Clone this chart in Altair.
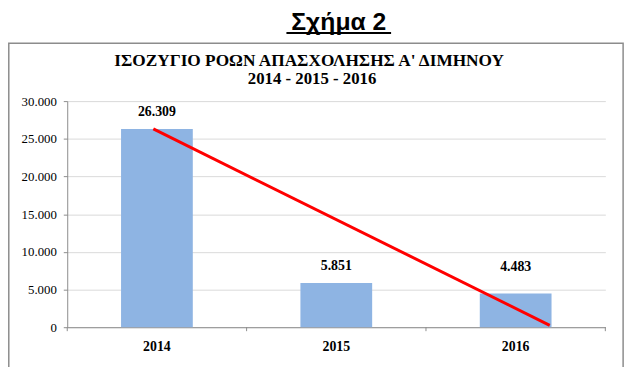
import altair as alt
import pandas as pd

years = ["2014", "2015", "2016"]
values = [26309, 5851, 4483]
trend_pos = [0.48, 2.69]
trend_values = [26309, 250]
boundaries = [0, 1, 2, 3]
y_ticks = [0, 5000, 10000, 15000, 20000, 25000, 30000]
fig_label = ["Σχήμα 2"]
title_line1 = ["ΙΣΟΖΥΓΙΟ ΡΟΩΝ ΑΠΑΣΧΟΛΗΣΗΣ Α' ΔΙΜΗΝΟΥ"]
title_line2 = ["2014 - 2015 - 2016"]

W, H = 545, 229
SERIF = "Liberation Serif"
SANS = "Liberation Sans"
FMT = "replace(format(datum.value, ','), ',', '.')"

bars_df = pd.DataFrame({"year": years, "value": values})
trend_df = pd.DataFrame({"pos": trend_pos, "value": trend_values})
bound_df = pd.DataFrame({"pos": boundaries})
fig_df = pd.DataFrame({"t": fig_label})
t1_df = pd.DataFrame({"t": title_line1})
t2_df = pd.DataFrame({"t": title_line2})

xband = alt.X(
    "year:N", sort=years,
    scale=alt.Scale(paddingInner=0.6, paddingOuter=0.3),
    axis=alt.Axis(title=None, labelAngle=0, labelFont=SERIF, labelFontSize=14,
                  labelFontWeight="bold", labelColor="black", ticks=False,
                  labelPadding=24, labelBaseline="alphabetic",
                  domainColor="#8c8c8c", grid=False),
)
yq = alt.Y(
    "value:Q",
    scale=alt.Scale(domain=[0, 30000], nice=False),
    axis=alt.Axis(title=None, values=y_ticks, tickCount=7, labelExpr=FMT, labelFont=SERIF,
                  labelFontSize=13, labelColor="black", grid=True, gridColor="#d9d9d9",
                  domainColor="#8c8c8c", tickColor="#8c8c8c", tickSize=4,
                  labelPadding=7, labelOverlap=False),
)

bars = alt.Chart(bars_df).mark_bar(color="#8EB4E3").encode(x=xband, y=yq)

lab_base = alt.Chart(bars_df).transform_calculate(label=FMT)
labels_a = lab_base.transform_filter("datum.year != '2016'").mark_text(
    font=SERIF, fontSize=14, fontWeight="bold", baseline="alphabetic", dy=-13, color="black"
).encode(x=xband, y=yq, text="label:N")
labels_b = lab_base.transform_filter("datum.year == '2016'").mark_text(
    font=SERIF, fontSize=14, fontWeight="bold", baseline="alphabetic", dy=-23, color="black"
).encode(x=xband, y=yq, text="label:N")

xq = alt.X("pos:Q", scale=alt.Scale(domain=[0, 3], nice=False, zero=False), axis=None)
trend = alt.Chart(trend_df).mark_line(color="#FF0000", strokeWidth=3).encode(x=xq, y=yq)
ticks = alt.Chart(bound_df).mark_rule(color="#8c8c8c").encode(
    x=xq, y=alt.value(H), y2=alt.value(H + 4))

box = alt.Chart(fig_df).mark_rect(fillOpacity=0, stroke="#8c8c8c", strokeWidth=1.5).encode(
    x=alt.value(-59.2), x2=alt.value(563), y=alt.value(-58.5), y2=alt.value(300))
fig_text = alt.Chart(fig_df).mark_text(
    font=SANS, fontSize=25, fontWeight="bold", align="center", baseline="alphabetic", color="black"
).encode(x=alt.value(275), y=alt.value(-72), text="t:N")
underline = alt.Chart(fig_df).mark_rule(color="black", strokeWidth=2).encode(
    x=alt.value(222), x2=alt.value(328), y=alt.value(-69))
title1 = alt.Chart(t1_df).mark_text(
    font=SERIF, fontSize=17.5, fontWeight="bold", align="center", baseline="alphabetic", color="black"
).encode(x=alt.value(245), y=alt.value(-36), text="t:N")
title2 = alt.Chart(t2_df).mark_text(
    font=SERIF, fontSize=17, fontWeight="bold", align="center", baseline="alphabetic", color="black"
).encode(x=alt.value(248), y=alt.value(-17), text="t:N")

main = alt.layer(bars, labels_a, labels_b)
overlay = alt.layer(trend, ticks)

chart = alt.layer(box, main, overlay, fig_text, underline, title1, title2).resolve_scale(
    x="independent"
).properties(
    width=W, height=H,
    autosize=alt.AutoSizeParams(type="none"),
    padding={"left": 60, "top": 92, "right": 27, "bottom": 38},
    background="white",
).configure_view(stroke=None)

chart.save("out.html", embed_options={"renderer": "svg", "actions": False})
